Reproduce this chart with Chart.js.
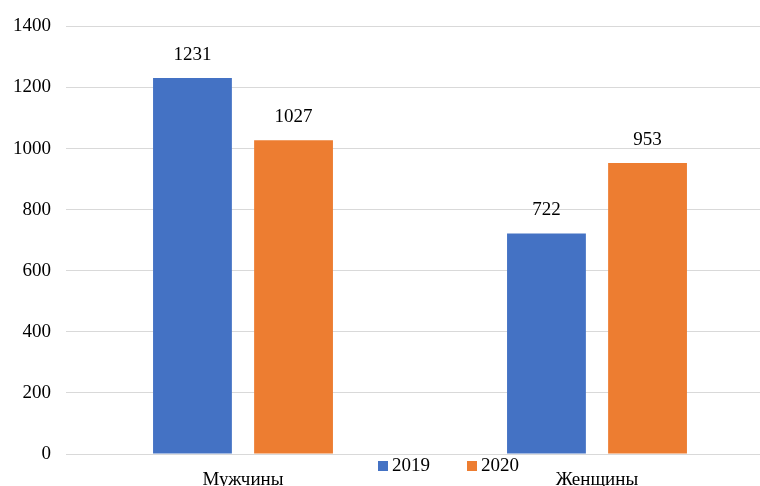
<!DOCTYPE html>
<html>
<head>
<meta charset="utf-8">
<script src="https://cdn.jsdelivr.net/npm/chart.js@4"></script>
<style>
    html, body { margin: 0; padding: 0; background: #fff; overflow: hidden; width: 760px; height: 486px; }
    #wrap { width: 774px; height: 486px; }
</style>
</head>
<body>
<div id="wrap"><canvas id="genderChart"></canvas></div>
<script>
    // Data
    var categories = ['Мужчины', 'Женщины'];
    var years = ['2019', '2020'];
    var values2019 = [1231, 722];
    var values2020 = [1027, 953];
    var yTicks = [0, 200, 400, 600, 800, 1000, 1200, 1400];

    var fontFamily = '"Liberation Serif", "Times New Roman", serif';

    // Value labels above bars
    var valueLabels = {
        id: 'valueLabels',
        afterDatasetsDraw: function (chart) {
            var ctx = chart.ctx;
            ctx.save();
            ctx.font = '19px ' + fontFamily;
            ctx.fillStyle = '#000';
            ctx.textAlign = 'center';
            ctx.textBaseline = 'middle';
            chart.data.datasets.forEach(function (ds, i) {
                chart.getDatasetMeta(i).data.forEach(function (bar, j) {
                    ctx.fillText(ds.data[j], bar.x, bar.y - 23);
                });
            });
            ctx.restore();
        }
    };

    // Legend drawn over the category labels, like the original
    var overlapLegend = {
        id: 'overlapLegend',
        afterDraw: function (chart) {
            var ctx = chart.ctx;
            var x = 378, y = 466;
            ctx.save();
            ctx.font = '19px ' + fontFamily;
            ctx.textBaseline = 'middle';
            ctx.textAlign = 'left';
            chart.data.datasets.forEach(function (ds) {
                ctx.fillStyle = ds.backgroundColor;
                ctx.fillRect(x, y - 5, 10, 10);
                ctx.fillStyle = '#000';
                ctx.fillText(ds.label, x + 14, y);
                x += 89;
            });
            ctx.restore();
        }
    };

    var ctx = document.getElementById('genderChart').getContext('2d');
    var genderChart = new Chart(ctx, {
        type: 'bar',
        data: {
            labels: categories,
            datasets: [{
                label: years[0],
                data: values2019,
                backgroundColor: '#4472C4',
                categoryPercentage: 0.571,
                barPercentage: 0.78
            },
            {
                label: years[1],
                data: values2020,
                backgroundColor: '#ED7D31',
                categoryPercentage: 0.571,
                barPercentage: 0.78
            }]
        },
        options: {
            responsive: true,
            maintainAspectRatio: false,
            animation: false,
            layout: {
                padding: { top: 10, right: 0, left: 0, bottom: 0 }
            },
            scales: {
                x: {
                    grid: { display: false },
                    border: { display: false },
                    ticks: {
                        color: '#000',
                        padding: 7,
                        font: { family: fontFamily, size: 19 }
                    },
                    afterFit: function (scale) { scale.height = 32; }
                },
                y: {
                    min: 0,
                    max: 1400,
                    afterBuildTicks: function (scale) {
                        scale.ticks = yTicks.map(function (v) { return { value: v }; });
                    },
                    grid: {
                        color: '#d9d9d9',
                        lineWidth: 1,
                        drawTicks: false
                    },
                    border: { display: false },
                    ticks: {
                        color: '#000',
                        padding: 15,
                        font: { family: fontFamily, size: 19 },
                        callback: function (v) { return String(v); }
                    },
                    afterFit: function (scale) { scale.width = 66; }
                }
            },
            plugins: {
                legend: { display: false },
                tooltip: { enabled: false }
            }
        },
        plugins: [valueLabels, overlapLegend]
    });
</script>
</body>
</html>
